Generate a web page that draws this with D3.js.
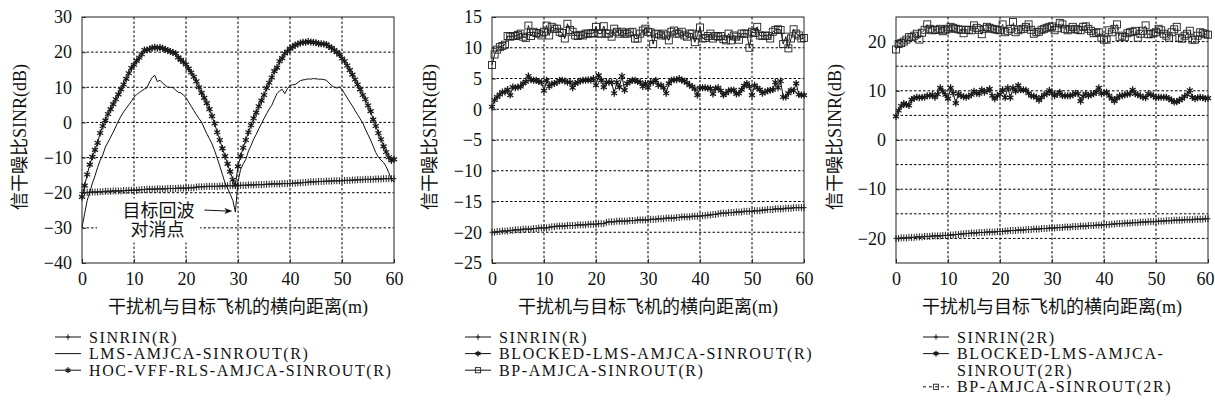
<!DOCTYPE html>
<html>
<head>
<meta charset="utf-8">
<script src="https://cdn.jsdelivr.net/npm/d3@7"></script>
<style>
  body { margin: 0; background: #fff; }
  text { font-family: "Liberation Serif", "Noto Sans CJK SC", serif; fill: #111; }
</style>
</head>
<body>
<svg id="chart" width="1215" height="417"></svg>
<script>
// sample positions along the lateral distance axis (m), one every 0.5 m
const distance = d3.range(0, 60.25, 0.5);

const xTicks = [0, 10, 20, 30, 40, 50, 60];
const yTicks1 = [-40, -30, -20, -10, 0, 10, 20, 30];
const yTicks2 = [-25, -20, -15, -10, -5, 0, 5, 10, 15];
const yTicks3 = [-20, -10, 0, 10, 20];
const yGrid3 = [-20, -15, -10, -5, 0, 5, 10, 15, 20];

const xLabel = "干扰机与目标飞机的横向距离(m)";
const yLabel = "信干噪比SINR(dB)";

// input SINR, spacing R (same in panels 1 and 2)
const sinrinR = [
  -20.0, -20.0, -19.9, -19.9, -19.8, -19.8, -19.8, -19.7, -19.7, -19.6,
  -19.6, -19.6, -19.5, -19.5, -19.5, -19.5, -19.4, -19.4, -19.3, -19.3,
  -19.3, -19.3, -19.2, -19.1, -19.1, -19.0, -19.0, -19.0, -19.0, -18.9,
  -18.9, -18.9, -18.9, -18.8, -18.8, -18.8, -18.8, -18.7, -18.7, -18.7,
  -18.7, -18.6, -18.6, -18.6, -18.4, -18.3, -18.3, -18.3, -18.2, -18.2,
  -18.2, -18.2, -18.2, -18.1, -18.1, -18.1, -18.0, -18.0, -18.0, -18.0,
  -18.0, -17.9, -17.9, -17.9, -17.8, -17.8, -17.8, -17.7, -17.7, -17.7,
  -17.7, -17.6, -17.6, -17.5, -17.5, -17.5, -17.5, -17.4, -17.4, -17.4,
  -17.4, -17.3, -17.3, -17.2, -17.2, -17.1, -17.1, -17.0, -16.9, -16.9,
  -16.9, -16.8, -16.8, -16.8, -16.7, -16.7, -16.7, -16.6, -16.6, -16.6,
  -16.6, -16.5, -16.5, -16.5, -16.4, -16.4, -16.3, -16.3, -16.3, -16.2,
  -16.2, -16.2, -16.2, -16.1, -16.1, -16.1, -16.0, -16.0, -16.0, -16.0,
  -16.0
];

const lmsR = [
  -29.8, -26.0, -22.2, -19.8, -17.3, -15.2, -12.8, -10.8, -9.2, -7.0,
  -5.6, -4.2, -2.8, -1.2, 0.4, 1.8, 3.0, 4.0, 5.0, 6.0,
  7.2, 7.9, 8.5, 9.0, 9.5, 9.9, 11.5, 12.8, 13.4, 11.6,
  12.0, 11.2, 10.6, 10.0, 10.0, 9.9, 9.2, 8.6, 8.4, 7.8,
  7.1, 5.8, 4.6, 3.4, 2.2, 1.1, 0.1, -1.6, -3.2, -4.6,
  -6.1, -8.0, -10.2, -12.4, -14.8, -17.2, -18.8, -20.4, -22.2, -25.5,
  -16.8, -13.4, -11.8, -10.5, -8.2, -6.6, -4.8, -3.4, -1.8, -0.4,
  1.1, 2.5, 3.8, 4.9, 6.6, 8.2, 9.0, 9.4, 8.2, 9.6,
  10.5, 10.7, 10.8, 11.3, 11.9, 12.1, 12.2, 12.4, 12.3, 12.5,
  12.4, 12.3, 12.3, 12.2, 12.0, 11.2, 10.5, 10.0, 9.8, 10.1,
  9.4, 8.2, 7.0, 5.8, 4.7, 3.4, 2.2, 1.0, -0.2, -1.9,
  -3.5, -5.0, -6.8, -8.6, -9.9, -10.7, -11.4, -12.6, -14.3, -16.2,
  -17.0
];

const hocR = [
  -21.2, -18.0, -14.8, -12.0, -9.8, -7.8, -5.8, -3.0, -1.0, 0.6,
  2.4, 3.8, 5.2, 6.6, 8.0, 9.4, 10.8, 12.4, 14.0, 15.5,
  16.4, 17.5, 18.4, 19.4, 20.6, 20.6, 20.9, 21.2, 21.4, 21.2,
  21.3, 21.1, 20.8, 20.5, 20.2, 19.9, 19.6, 18.5, 17.8, 17.2,
  16.5, 15.3, 14.2, 13.0, 11.7, 10.0, 8.4, 7.0, 5.5, 3.8,
  1.8, -0.3, -2.8, -5.0, -7.4, -9.6, -11.8, -14.0, -16.3, -17.8,
  -12.5, -9.6, -7.2, -5.0, -2.8, -0.8, 1.2, 2.8, 4.6, 6.2,
  7.8, 9.8, 11.3, 12.8, 14.6, 15.6, 17.4, 18.3, 19.6, 20.2,
  21.0, 21.5, 22.0, 22.3, 22.6, 22.8, 22.8, 23.0, 22.9, 22.8,
  22.7, 22.4, 22.4, 22.3, 22.2, 21.6, 21.2, 20.6, 20.0, 19.3,
  18.2, 17.4, 16.2, 14.9, 13.6, 12.2, 10.8, 9.4, 7.8, 6.6,
  4.8, 3.2, 0.8, -1.0, -3.0, -4.8, -6.8, -8.4, -9.9, -10.8,
  -10.5
];

const blockedR = [
  0.4, 1.5, 2.0, 2.4, 2.8, 2.8, 3.2, 2.3, 3.6, 3.5,
  3.6, 3.7, 4.2, 4.5, 5.4, 4.8, 4.7, 4.7, 4.5, 4.4,
  3.0, 4.7, 3.7, 4.1, 4.2, 4.4, 4.7, 4.7, 4.6, 4.4,
  4.4, 3.5, 4.2, 4.4, 4.6, 4.7, 4.7, 4.8, 4.7, 5.0,
  3.9, 5.5, 4.7, 3.6, 4.4, 4.4, 4.4, 2.6, 4.4, 3.6,
  5.4, 3.1, 4.2, 4.5, 4.7, 4.7, 4.5, 4.4, 3.7, 4.2,
  3.5, 4.4, 4.4, 4.7, 3.9, 3.9, 3.5, 2.6, 4.2, 4.7,
  4.8, 4.8, 5.0, 4.7, 4.6, 4.3, 3.9, 3.7, 3.3, 2.3,
  3.5, 3.5, 3.5, 3.4, 3.4, 2.5, 3.4, 3.5, 3.0, 2.3,
  2.6, 3.0, 3.1, 3.1, 2.5, 2.6, 3.2, 3.8, 4.2, 3.7,
  2.3, 3.9, 3.5, 3.2, 2.6, 2.8, 3.0, 3.1, 3.2, 4.4,
  3.5, 4.6, 2.0, 2.0, 2.6, 3.1, 3.0, 4.2, 2.4, 2.3,
  2.3
];

const bpR = [
  7.2, 8.9, 9.7, 10.1, 10.3, 10.5, 11.9, 11.8, 11.9, 11.9,
  12.1, 12.3, 11.8, 11.6, 13.6, 11.9, 12.6, 12.4, 12.3, 12.0,
  12.6, 13.6, 12.0, 13.4, 13.1, 13.1, 12.6, 12.4, 11.5, 13.9,
  12.9, 12.6, 12.0, 11.9, 12.1, 12.0, 12.3, 12.3, 12.3, 12.4,
  13.4, 12.3, 12.3, 13.5, 12.3, 12.3, 11.8, 13.1, 12.6, 12.3,
  12.6, 12.3, 12.3, 12.5, 12.6, 11.5, 11.5, 12.3, 12.8, 13.1,
  12.6, 12.5, 10.6, 12.3, 12.2, 12.0, 12.3, 12.0, 11.2, 12.6,
  12.8, 12.3, 12.3, 12.6, 12.0, 11.8, 12.3, 12.3, 10.9, 12.0,
  13.3, 11.5, 11.6, 11.9, 12.3, 11.5, 11.9, 11.8, 11.9, 11.4,
  11.2, 12.3, 11.2, 12.0, 11.8, 11.3, 12.3, 12.3, 12.3, 10.0,
  12.6, 12.4, 13.4, 12.0, 11.9, 12.0, 11.9, 11.5, 12.6, 12.9,
  13.0, 12.9, 10.6, 11.8, 9.9, 11.5, 13.0, 12.3, 12.0, 11.5,
  11.6
];

// input SINR, spacing 2R
const sinrin2R = [
  -20.0, -20.0, -19.9, -19.9, -19.9, -19.8, -19.8, -19.8, -19.7, -19.7,
  -19.7, -19.6, -19.6, -19.6, -19.5, -19.5, -19.5, -19.5, -19.4, -19.4,
  -19.4, -19.3, -19.3, -19.2, -19.2, -19.1, -19.1, -19.0, -19.0, -18.9,
  -18.9, -18.9, -18.8, -18.8, -18.8, -18.7, -18.7, -18.7, -18.7, -18.6,
  -18.6, -18.6, -18.5, -18.5, -18.4, -18.4, -18.4, -18.3, -18.3, -18.3,
  -18.2, -18.2, -18.2, -18.1, -18.1, -18.1, -18.0, -18.0, -18.0, -17.9,
  -17.9, -17.9, -17.8, -17.8, -17.8, -17.7, -17.7, -17.7, -17.6, -17.6,
  -17.6, -17.5, -17.5, -17.5, -17.4, -17.4, -17.4, -17.3, -17.3, -17.3,
  -17.2, -17.2, -17.2, -17.1, -17.1, -17.0, -17.0, -17.0, -16.9, -16.9,
  -16.9, -16.8, -16.8, -16.8, -16.7, -16.7, -16.7, -16.6, -16.6, -16.6,
  -16.6, -16.5, -16.5, -16.5, -16.4, -16.4, -16.4, -16.3, -16.3, -16.3,
  -16.3, -16.2, -16.2, -16.2, -16.2, -16.1, -16.1, -16.1, -16.1, -16.0,
  -16.0
];

const blocked2R = [
  4.8, 6.0, 6.9, 7.4, 7.2, 7.0, 8.2, 8.5, 8.7, 8.6,
  8.7, 8.7, 9.0, 9.0, 9.2, 8.7, 9.3, 10.6, 9.9, 9.2,
  8.4, 10.6, 9.5, 7.5, 9.4, 9.0, 8.8, 8.7, 8.9, 9.2,
  9.9, 9.5, 9.4, 10.2, 9.7, 10.0, 10.4, 9.0, 8.4, 9.0,
  9.3, 10.2, 8.6, 10.6, 8.6, 10.6, 9.9, 11.1, 10.2, 10.2,
  10.1, 9.5, 9.0, 8.9, 8.7, 8.1, 8.7, 9.2, 9.4, 10.1,
  9.5, 9.0, 9.3, 9.7, 9.0, 9.0, 9.0, 9.0, 9.2, 9.5,
  9.4, 7.9, 8.9, 9.4, 9.0, 9.2, 9.4, 9.7, 10.6, 9.4,
  9.5, 9.7, 9.0, 8.4, 7.9, 8.5, 9.0, 9.0, 9.2, 9.3,
  9.4, 10.2, 9.4, 9.2, 9.0, 8.7, 8.6, 9.4, 9.2, 9.0,
  8.6, 8.7, 8.7, 8.7, 8.7, 8.4, 8.1, 7.7, 7.8, 8.1,
  8.4, 8.9, 9.2, 10.1, 8.7, 8.4, 8.6, 8.7, 8.6, 8.4,
  8.5
];

const bp2R = [
  18.4, 19.5, 19.7, 20.0, 20.4, 20.9, 20.9, 21.2, 21.6, 20.4,
  21.8, 22.4, 23.5, 22.6, 22.3, 22.4, 22.4, 22.6, 22.1, 22.3,
  22.6, 23.0, 22.8, 22.6, 22.5, 22.4, 21.7, 22.4, 22.4, 22.3,
  23.3, 22.8, 22.4, 21.5, 22.6, 23.0, 22.8, 22.6, 22.5, 22.4,
  22.3, 23.5, 21.9, 22.2, 22.6, 24.0, 21.9, 22.3, 22.5, 22.6,
  23.0, 23.5, 22.4, 21.6, 21.9, 22.0, 22.4, 22.6, 22.8, 23.0,
  23.1, 22.3, 22.7, 23.8, 23.5, 22.6, 22.3, 22.5, 23.0, 22.6,
  22.4, 22.3, 23.0, 23.1, 22.6, 22.2, 21.7, 21.8, 21.9, 20.8,
  20.4, 20.4, 22.3, 21.9, 22.6, 23.5, 20.9, 21.2, 20.9, 21.7,
  21.9, 22.0, 22.2, 20.8, 21.6, 22.2, 23.3, 21.5, 21.5, 21.7,
  21.9, 22.6, 22.3, 21.6, 21.2, 20.8, 21.9, 22.5, 23.0, 20.8,
  20.6, 21.2, 21.6, 22.2, 20.4, 20.4, 21.2, 21.9, 21.7, 21.5,
  21.4
];

const panels = [
  {
    left: 82, yDomain: [-40, 30], yTicks: yTicks1, yGrid: yTicks1, yLabelX: 20,
    series: [
      { name: "SINRIN(R)", values: sinrinR, marker: "plus" },
      { name: "LMS-AMJCA-SINROUT(R)", values: lmsR, marker: "none" },
      { name: "HOC-VFF-RLS-AMJCA-SINROUT(R)", values: hocR, marker: "star" }
    ],
    legendLines: [["SINRIN(R)"], ["LMS-AMJCA-SINROUT(R)"], ["HOC-VFF-RLS-AMJCA-SINROUT(R)"]],
    legendX: 55
  },
  {
    left: 492, yDomain: [-25, 15], yTicks: yTicks2, yGrid: yTicks2, yLabelX: 430,
    series: [
      { name: "SINRIN(R)", values: sinrinR, marker: "plus" },
      { name: "BLOCKED-LMS-AMJCA-SINROUT(R)", values: blockedR, marker: "star" },
      { name: "BP-AMJCA-SINROUT(R)", values: bpR, marker: "square" }
    ],
    legendLines: [["SINRIN(R)"], ["BLOCKED-LMS-AMJCA-SINROUT(R)"], ["BP-AMJCA-SINROUT(R)"]],
    legendX: 465
  },
  {
    left: 896, yDomain: [-25, 25], yTicks: yTicks3, yGrid: yGrid3, yLabelX: 835,
    series: [
      { name: "SINRIN(2R)", values: sinrin2R, marker: "plus" },
      { name: "BLOCKED-LMS-AMJCA-SINROUT(2R)", values: blocked2R, marker: "star" },
      { name: "BP-AMJCA-SINROUT(2R)", values: bp2R, marker: "square", dash: "3,3" }
    ],
    legendLines: [["SINRIN(2R)"], ["BLOCKED-LMS-AMJCA-", "SINROUT(2R)"], ["BP-AMJCA-SINROUT(2R)"]],
    legendX: 923
  }
];

const plotW = 312, plotTop = 17, plotBottom = 263;
const svg = d3.select("#chart");

function drawMarker(g, type, cx, cy, small) {
  const s = small ? 0.8 : 1;
  if (type === "plus") {
    g.append("path")
      .attr("d", `M${cx},${cy - 3.5 * s}V${cy + 3.5 * s}M${cx - 2.5 * s},${cy}H${cx + 2.5 * s}`)
      .attr("stroke", "#222").attr("stroke-width", 1).attr("fill", "none");
  } else if (type === "star") {
    g.append("path")
      .attr("d", d3.symbol(d3.symbolAsterisk, small ? 22 : 34)())
      .attr("transform", `translate(${cx},${cy})`)
      .attr("stroke", "#1a1a1a").attr("stroke-width", 1.3).attr("fill", "none");
  } else if (type === "square") {
    const h = small ? 2.6 : 3.5;
    g.append("rect")
      .attr("x", cx - h).attr("y", cy - h).attr("width", 2 * h).attr("height", 2 * h)
      .attr("stroke", "#222").attr("stroke-width", 0.9).attr("fill", "none");
  }
}

panels.forEach(p => {
  const x = d3.scaleLinear().domain([0, 60]).range([p.left, p.left + plotW]);
  const y = d3.scaleLinear().domain(p.yDomain).range([plotBottom, plotTop]);
  const g = svg.append("g");

  // dotted grid
  g.append("g").selectAll("line.v")
    .data(xTicks.filter(t => t > 0 && t < 60))
    .join("line")
      .attr("x1", d => x(d)).attr("x2", d => x(d))
      .attr("y1", plotTop).attr("y2", plotBottom)
      .attr("stroke", "#000").attr("stroke-width", 1).attr("stroke-dasharray", "2.5,2");
  g.append("g").selectAll("line.h")
    .data(p.yGrid.filter(t => t > p.yDomain[0] && t < p.yDomain[1]))
    .join("line")
      .attr("x1", p.left).attr("x2", p.left + plotW)
      .attr("y1", d => y(d)).attr("y2", d => y(d))
      .attr("stroke", "#000").attr("stroke-width", 1).attr("stroke-dasharray", "2.5,2");

  // axes: tick labels only, ticks pointing inward
  const xAxis = g.append("g").attr("transform", `translate(0,${plotBottom})`)
    .call(d3.axisBottom(x).tickValues(xTicks).tickSizeInner(-4).tickSizeOuter(0).tickPadding(9));
  const yAxis = g.append("g").attr("transform", `translate(${p.left},0)`)
    .call(d3.axisLeft(y).tickValues(p.yTicks).tickSizeInner(-4).tickSizeOuter(0).tickPadding(10));
  [xAxis, yAxis].forEach(a => {
    a.select(".domain").remove();
    a.selectAll("text").attr("font-size", 18).attr("font-family", '"Liberation Serif", serif').attr("fill", "#111");
    a.selectAll("line").attr("stroke", "#333");
  });
  // last x label of the right panel sits against the page edge
  if (p.left + plotW > 1200) {
    xAxis.selectAll(".tick").filter(d => d === 60).select("text")
      .attr("text-anchor", "end").attr("dx", 6);
  }

  // annotation box in panel 1 (drawn under the curves)
  if (p.left === 82) {
    g.append("rect")
      .attr("x", x(2.9)).attr("y", y(-21.6))
      .attr("width", x(22.7) - x(2.9)).attr("height", y(-34.2) - y(-21.6))
      .attr("fill", "#fff");
  }

  const line = d3.line().x((d, i) => x(distance[i])).y(d => y(d));
  p.series.forEach(s => {
    g.append("path").datum(s.values)
      .attr("d", line)
      .attr("fill", "none").attr("stroke", "#111").attr("stroke-width", 1)
      .attr("stroke-dasharray", s.dash || null);
    if (s.marker !== "none") {
      const mg = g.append("g");
      s.values.forEach((v, i) => drawMarker(mg, s.marker, x(distance[i]), y(v), false));
    }
  });

  // frame
  g.append("rect")
    .attr("x", p.left).attr("y", plotTop).attr("width", plotW).attr("height", plotBottom - plotTop)
    .attr("fill", "none").attr("stroke", "#222").attr("stroke-width", 1);

  // axis titles
  g.append("text")
    .attr("x", p.left + plotW / 2).attr("y", 307).attr("dy", "0.35em")
    .attr("text-anchor", "middle").attr("font-size", 18)
    .text(xLabel);
  g.append("text")
    .attr("transform", `translate(${p.yLabelX},${(plotTop + plotBottom) / 2 - 3}) rotate(-90)`)
    .attr("dy", "0.35em").attr("text-anchor", "middle").attr("font-size", 18)
    .text(yLabel);

  // legend
  let row = 0;
  p.series.forEach((s, k) => {
    const cy = 337 + row * 16.6;
    const lx0 = p.legendX, lx1 = p.legendX + 26;
    g.append("line")
      .attr("x1", lx0).attr("x2", lx1).attr("y1", cy).attr("y2", cy)
      .attr("stroke", "#111").attr("stroke-width", 1)
      .attr("stroke-dasharray", s.dash || null);
    if (s.marker !== "none") drawMarker(g, s.marker, (lx0 + lx1) / 2, cy, true);
    p.legendLines[k].forEach((t, j) => {
      g.append("text")
        .attr("x", lx1 + 8).attr("y", cy + j * 16.6).attr("dy", "0.35em")
        .attr("font-size", 16).attr("letter-spacing", 1.6)
        .text(t);
    });
    row += p.legendLines[k].length;
  });

  // annotation: echo cancellation point
  if (p.left === 82) {
    const tipX = x(29.5) - 3, tipY = y(-25.5) - 1;
    g.append("path")
      .attr("d", `M${tipX - 28},${tipY - 1}L${tipX - 6},${tipY}`)
      .attr("stroke", "#111").attr("stroke-width", 1).attr("fill", "none");
    g.append("path")
      .attr("d", `M${tipX},${tipY}L${tipX - 8},${tipY - 3}L${tipX - 6},${tipY}L${tipX - 8},${tipY + 3}Z`)
      .attr("fill", "#111");
    g.append("text").attr("x", tipX - 74).attr("y", tipY).attr("dy", "0.35em")
      .attr("text-anchor", "middle").attr("font-size", 18).text("目标回波");
    g.append("text").attr("x", tipX - 75).attr("y", tipY + 19).attr("dy", "0.35em")
      .attr("text-anchor", "middle").attr("font-size", 18).text("对消点");
  }
});
</script>
</body>
</html>
